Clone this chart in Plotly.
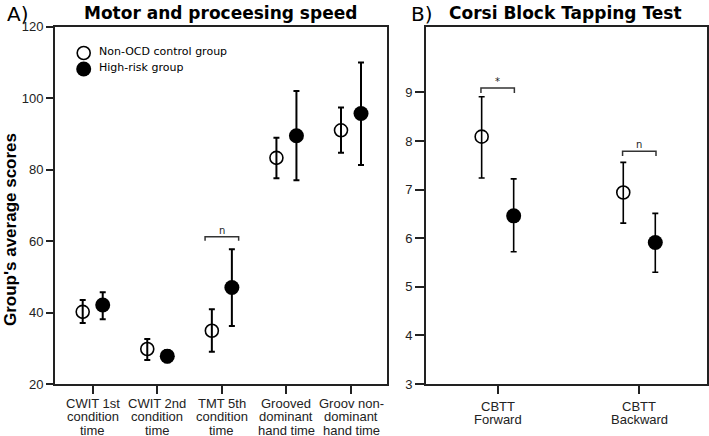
import plotly.graph_objects as go

# ---------------- data ----------------
left_categories = ["CWIT 1st\ncondition\ntime", "CWIT 2nd\ncondition\ntime",
                   "TMT 5th\ncondition\ntime", "Grooved\ndominant\nhand time",
                   "Groov non-\ndominant\nhand time"]
left_control_mean = [40.2, 29.8, 34.9, 83.3, 91.0]
left_control_low = [37.1, 26.7, 29.0, 77.6, 84.7]
left_control_high = [43.5, 32.6, 40.9, 88.9, 97.4]
left_risk_mean = [42.1, 27.8, 47.0, 89.5, 95.7]
left_risk_low = [38.1, 26.1, 36.2, 77.0, 81.3]
left_risk_high = [45.7, 29.5, 57.7, 102.0, 110.0]
left_yticks = [20, 40, 60, 80, 100, 120]

right_categories = ["CBTT\nForward", "CBTT\nBackward"]
right_control_mean = [8.09, 6.94]
right_control_low = [7.24, 6.31]
right_control_high = [8.91, 7.56]
right_risk_mean = [6.46, 5.91]
right_risk_low = [5.72, 5.30]
right_risk_high = [7.22, 6.51]
right_yticks = [3, 4, 5, 6, 7, 8, 9]

# significance brackets: (category index, y value, label)
left_brackets = [(2, 61.2, "n")]
right_brackets = [(0, 9.09, "*"), (1, 7.79, "n")]

group_names = ["Non-OCD control group", "High-risk group"]

# ---------------- layout geometry ----------------
W, H = 709, 436
top_px, bot_px = 26.7, 384.0
ydom = [(H - bot_px) / H, (H - top_px) / H]
xdom_left = [55 / W, 387.3 / W]
xdom_right = [426 / W, 706.7 / W]
off_left = 0.155
off_right = 0.113

fig = go.Figure()

def add_pair(xa, ya, n, off, cm, cl, ch, rm, rl, rh, lw):
    xs = list(range(n))
    fig.add_trace(go.Scatter(
        x=[i - off for i in xs], y=cm, mode="markers", xaxis=xa, yaxis=ya,
        name=group_names[0], showlegend=False,
        marker=dict(symbol="circle-open", size=13, color="black", line=dict(width=1.6)),
        error_y=dict(type="data", symmetric=False,
                     array=[h - m for h, m in zip(ch, cm)],
                     arrayminus=[m - l for m, l in zip(cm, cl)],
                     color="black", thickness=lw, width=3),
    ))
    fig.add_trace(go.Scatter(
        x=[i + off for i in xs], y=rm, mode="markers", xaxis=xa, yaxis=ya,
        name=group_names[1], showlegend=False,
        marker=dict(symbol="circle", size=15, color="black"),
        error_y=dict(type="data", symmetric=False,
                     array=[h - m for h, m in zip(rh, rm)],
                     arrayminus=[m - l for m, l in zip(rm, rl)],
                     color="black", thickness=lw, width=3),
    ))

add_pair("x", "y", len(left_categories), off_left,
         left_control_mean, left_control_low, left_control_high,
         left_risk_mean, left_risk_low, left_risk_high, 2)
add_pair("x2", "y2", len(right_categories), off_right,
         right_control_mean, right_control_low, right_control_high,
         right_risk_mean, right_risk_low, right_risk_high, 1.6)

tickfont = dict(family="Liberation Sans, Arial, sans-serif", size=13, color="#222")
axis_common = dict(showline=True, mirror=True, linecolor="#222", showgrid=False,
                   zeroline=False, ticks="outside", tickcolor="#222", automargin=False)

fig.update_layout(
    template="none",
    width=W, height=H, margin=dict(l=0, r=0, t=0, b=0, autoexpand=False),
    paper_bgcolor="white", plot_bgcolor="white", showlegend=False,
    xaxis=dict(domain=xdom_left, range=[-0.584, 4.562], tickvals=list(range(len(left_categories))),
               showticklabels=False, ticklen=8, tickwidth=1.5, linewidth=2, **axis_common),
    yaxis=dict(domain=ydom, range=[20, 120], tickvals=left_yticks, tickfont=tickfont,
               ticklen=7, tickwidth=1.5, linewidth=2, **axis_common),
    xaxis2=dict(domain=xdom_right, range=[-0.506, 1.476], anchor="y2",
                tickvals=list(range(len(right_categories))),
                showticklabels=False, ticklen=8, tickwidth=1.5, linewidth=1.6, **axis_common),
    yaxis2=dict(domain=ydom, range=[3, 3 + (bot_px - top_px) / 48.6], anchor="x2",
                tickvals=right_yticks, tickfont=tickfont,
                ticklen=9, tickwidth=1.5, linewidth=1.6, **axis_common),
)

annotations = []
shapes = []

# category labels (one annotation per line to match tight line spacing)
def add_cat_labels(xref, cats, first_shift, step):
    for i, lab in enumerate(cats):
        for j, line in enumerate(lab.split("\n")):
            annotations.append(dict(
                x=i, xref=xref, y=ydom[0], yref="paper", text=line, showarrow=False,
                yanchor="middle", xanchor="center", yshift=-(first_shift + j * step),
                font=dict(family="Liberation Sans, Arial, sans-serif", size=13, color="#222")))

add_cat_labels("x", left_categories, 19.0, 13.5)
add_cat_labels("x2", right_categories, 22.5, 13.0)

# brackets
def add_brackets(xref, yref, brackets, half, drop):
    for ci, yv, lab in brackets:
        x0, x1 = ci - half, ci + half
        shapes.append(dict(type="path", xref=xref, yref=yref,
                           path=f"M {x0} {yv - drop} L {x0} {yv} L {x1} {yv} L {x1} {yv - drop}",
                           line=dict(color="#333", width=1.5)))
        annotations.append(dict(x=ci, xref=xref, y=yv, yref=yref, text=lab, showarrow=False,
                                yanchor="bottom", yshift=-1,
                                font=dict(family="DejaVu Sans", size=10, color="#222")))

add_brackets("x", "y", left_brackets, 0.26, 1.1)
add_brackets("x2", "y2", right_brackets, 0.118, 0.1)

# panel titles
title_font = dict(family="DejaVu Sans", size=17, color="black")
annotations += [
    dict(x=5 / W, y=1 - 14 / H, xref="paper", yref="paper", text="A)", showarrow=False,
         xanchor="left", yanchor="middle", font=dict(family="DejaVu Sans", size=20, color="black")),
    dict(x=82 / W, y=1 - 13 / H, xref="paper", yref="paper", text="<b>Motor and proceesing speed</b>",
         showarrow=False, xanchor="left", yanchor="middle", font=title_font),
    dict(x=409 / W, y=1 - 14 / H, xref="paper", yref="paper", text="B)", showarrow=False,
         xanchor="left", yanchor="middle", font=dict(family="DejaVu Sans", size=20, color="black")),
    dict(x=447 / W, y=1 - 13 / H, xref="paper", yref="paper", text="<b>Corsi Block Tapping Test</b>",
         showarrow=False, xanchor="left", yanchor="middle", font=title_font),
    dict(x=11 / W, y=1 - 230 / H, xref="paper", yref="paper", text="<b>Group's average scores</b>",
         showarrow=False, textangle=-90, xanchor="center", yanchor="middle",
         font=dict(family="Liberation Sans, Arial, sans-serif", size=17, color="black")),
]

# manual legend
leg_y = [53.0, 69.0]
for k, name in enumerate(group_names):
    cy = 1 - leg_y[k] / H
    cx = 83.7 / W
    if k == 0:
        shapes.append(dict(type="circle", xref="paper", yref="paper", xsizemode="pixel",
                           ysizemode="pixel", xanchor=cx, yanchor=cy, x0=-6.5, x1=6.5, y0=-6.5, y1=6.5,
                           line=dict(color="black", width=1.6), fillcolor="white"))
    else:
        shapes.append(dict(type="circle", xref="paper", yref="paper", xsizemode="pixel",
                           ysizemode="pixel", xanchor=cx, yanchor=cy, x0=-7.5, x1=7.5, y0=-7.5, y1=7.5,
                           line=dict(color="black", width=0), fillcolor="black"))
    annotations.append(dict(x=96.5 / W, y=cy + 1 / H, xref="paper", yref="paper", text=name,
                            showarrow=False, xanchor="left", yanchor="middle",
                            font=dict(family="DejaVu Sans", size=11, color="black")))

fig.update_layout(annotations=annotations, shapes=shapes)
fig.write_html("out.html", config={"displayModeBar": False},
               post_script="document.body.style.margin='0';document.body.style.padding='0';")
